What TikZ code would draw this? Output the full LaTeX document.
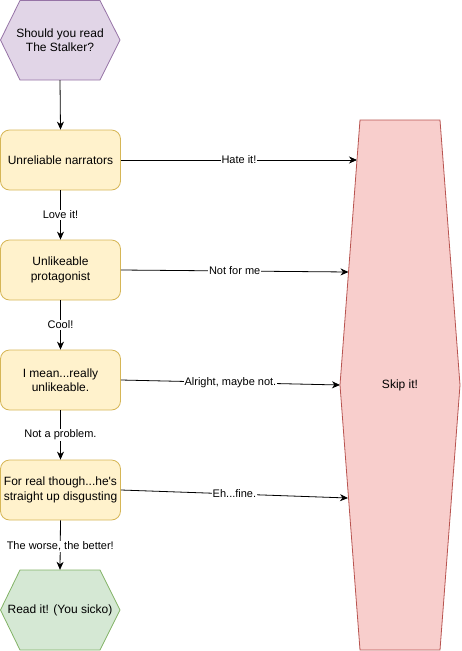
\documentclass[tikz,border=0pt]{standalone}
\usepackage{fontspec}
\setmainfont{Liberation Sans}[Ligatures=TeXOff]
\usetikzlibrary{arrows.meta}
\definecolor{purF}{HTML}{E1D5E7}
\definecolor{purS}{HTML}{9673A6}
\definecolor{yelF}{HTML}{FFF2CC}
\definecolor{yelS}{HTML}{D6B656}
\definecolor{grnF}{HTML}{D5E8D4}
\definecolor{grnS}{HTML}{82B366}
\definecolor{redF}{HTML}{F8CECC}
\definecolor{redS}{HTML}{B85450}
\begin{document}
\begin{tikzpicture}[x=1pt,y=-1pt,
  box/.style={draw=yelS, fill=yelF, line width=0.8pt, rounded corners=9pt, minimum width=120pt, minimum height=60pt, align=center, font=\fontsize{12}{14.5}\selectfont, inner sep=2pt},
  hexbox/.style={minimum width=#1, inner sep=0pt, align=center, font=\fontsize{12}{14.5}\selectfont},
  arr/.style={-{Stealth[length=8pt,width=7pt,inset=2.5pt]}, line width=0.8pt},
  lbl/.style={fill=white, font=\fontsize{11}{13}\selectfont, inner sep=1pt}]
\useasboundingbox (0,0) rectangle (461,651);

% start hexagon
\draw[fill=purF, draw=purS, line width=0.8pt] (0.5,40) -- (20,0.5) -- (100,0.5) -- (120,40) -- (100,80) -- (20,80) -- cycle;
\node[hexbox=120pt, minimum height=79.5pt] (start) at (60,40.25) {Should you read\\The Stalker?};

% boxes
\node[box] (b1) at (60.5,160) {Unreliable narrators};
\node[box] (b2) at (60.5,270) {Unlikeable\\protagonist};
\node[box] (b3) at (60.5,380) {I mean...really\\unlikeable.};
\node[box] (b4) at (60.5,490) {For real though...he's\\straight up disgusting};

% end hexagon
\draw[fill=grnF, draw=grnS, line width=0.8pt] (0.5,610) -- (20,570) -- (100,570) -- (120,610) -- (100,650) -- (20,650) -- cycle;
\node[hexbox=120pt, minimum height=80pt] (read) at (60,610) {Read it! (You sicko)};

% skip hexagon
\draw[fill=redF, draw=redS, line width=0.8pt] (340,385) -- (360,120) -- (440,120) -- (460,385) -- (440,650) -- (360,650) -- cycle;
\node[hexbox=120pt, minimum height=530pt] (skip) at (400,385) {Skip it!};

\coordinate (e1) at (357,160);
\coordinate (e2) at (348.5,272);
\coordinate (e3) at (340,385);
\coordinate (e4) at (348,498);

% vertical connectors
\draw[arr] (start.south) -- (b1.north);
\draw[arr] (b1.south) -- node[lbl]{Love it!} (b2.north);
\draw[arr] (b2.south) -- node[lbl]{Cool!} (b3.north);
\draw[arr] (b3.south) -- node[lbl]{Not a problem.} (b4.north);
\draw[arr] (b4.south) -- node[lbl, yshift=-1.5pt]{The worse, the better!} (read.north);

% horizontal connectors
\draw[arr] (b1.east) -- node[lbl]{Hate it!} (e1);
\draw[arr] (b2.east) -- node[lbl]{Not for me} (e2);
\draw[arr] (b3.east) -- node[lbl]{Alright, maybe not.} (e3);
\draw[arr] (b4.east) -- node[lbl]{Eh...fine.} (e4);
\end{tikzpicture}
\end{document}
